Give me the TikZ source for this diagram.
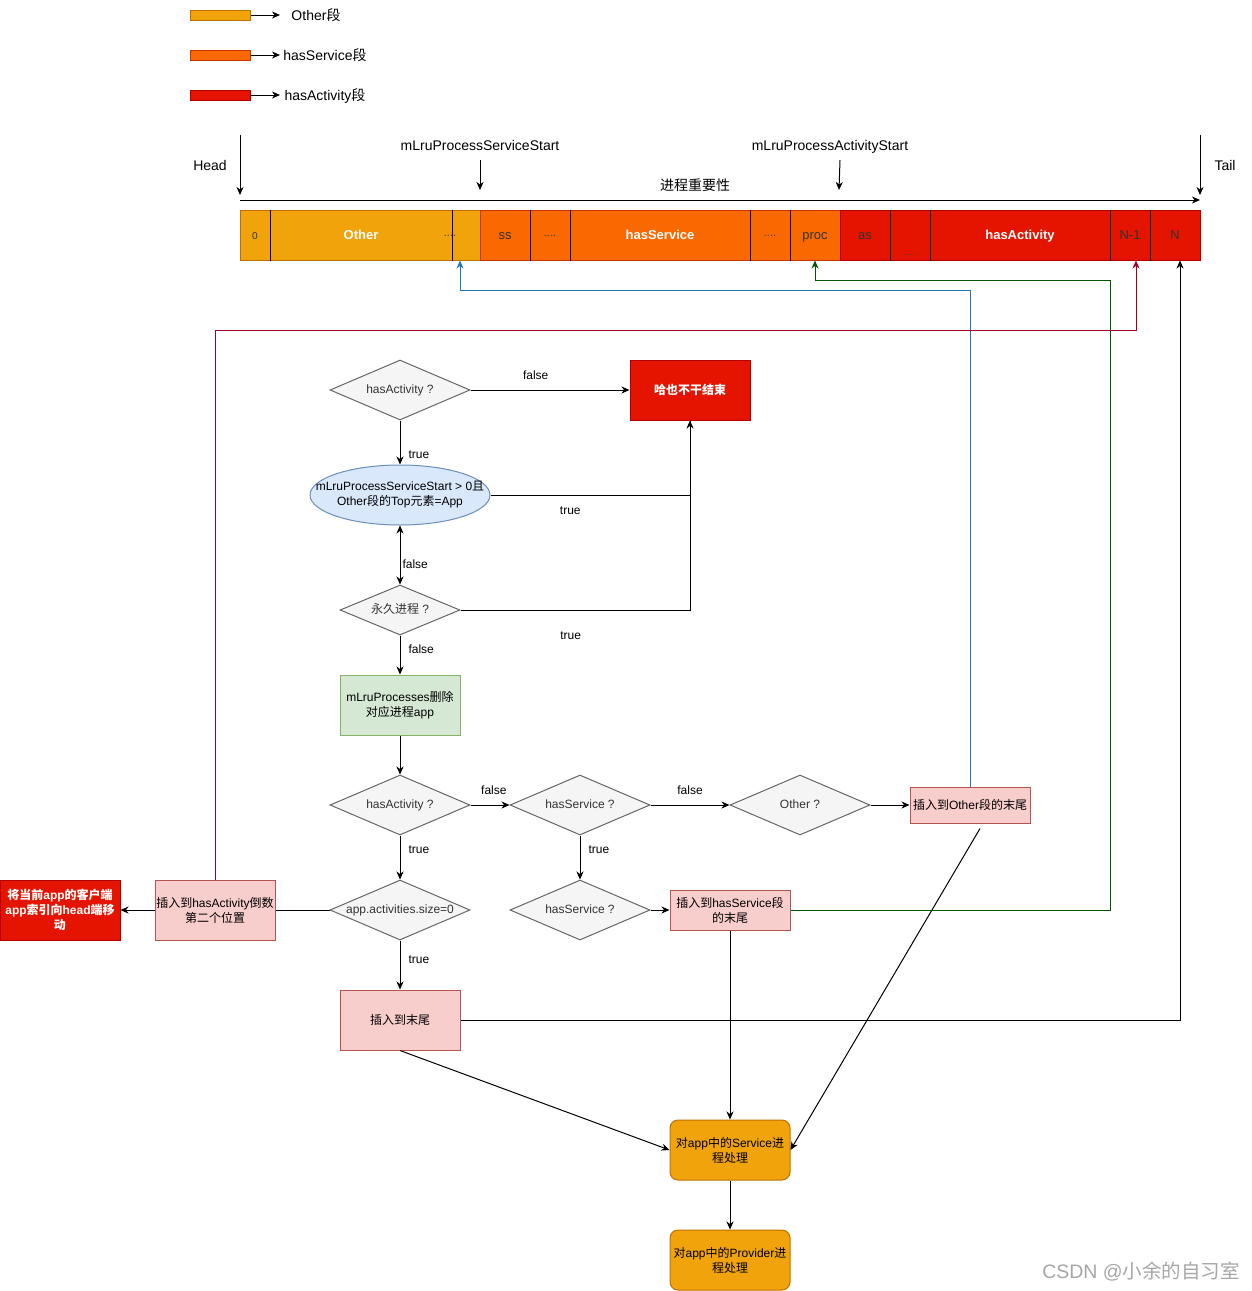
\documentclass[tikz,border=0pt]{standalone}
\usepackage{fontspec}
\setmainfont{Liberation Sans}
\newfontfamily\cjk{Noto Sans CJK SC}
\usetikzlibrary{arrows.meta, shapes.geometric, positioning, calc}
\definecolor{othfill}{HTML}{F0A30A}
\definecolor{othline}{HTML}{BD7000}
\definecolor{svcfill}{HTML}{FA6800}
\definecolor{svcline}{HTML}{C73500}
\definecolor{actfill}{HTML}{E51400}
\definecolor{actline}{HTML}{B20000}
\definecolor{decfill}{HTML}{F5F5F5}
\definecolor{decline}{HTML}{666666}
\definecolor{dectext}{HTML}{333333}
\definecolor{insfill}{HTML}{F8CECC}
\definecolor{insline}{HTML}{B85450}
\definecolor{delfill}{HTML}{D5E8D4}
\definecolor{delline}{HTML}{82B366}
\definecolor{ellfill}{HTML}{DAE8FC}
\definecolor{ellline}{HTML}{6C8EBF}
\definecolor{bluelink}{HTML}{1F78B4}
\definecolor{greenlink}{HTML}{005700}
\definecolor{redlink}{HTML}{A20025}
\newcommand{\zh}[1]{{\cjk #1}}
\tikzset{
  toplabel/.style={font=\fontsize{14}{16}\selectfont, inner sep=1pt, text height=10pt, text depth=3pt, yshift=-2pt},
  legbar/.style={minimum width=60, minimum height=10, inner sep=0pt, line width=1pt},
  cell/.style={minimum height=50, inner sep=0pt, line width=1pt, text=black!80, text height=11pt, text depth=1.5pt, font=\fontsize{13}{15}\selectfont},
  bigcell/.style={cell, text=white, font=\fontsize{13}{15}\selectfont\bfseries},
  celldots/.style={font=\fontsize{11}{12}\selectfont, text=black!75, inner sep=0pt},
  sepline/.style={black, line width=0.8pt},
  decision/.style={diamond, aspect=2.33, draw=decline, fill=decfill, text=dectext, inner sep=0pt, line width=1pt, text height=9pt, text depth=2pt, font=\fontsize{12}{15}\selectfont},
  insbox/.style={rectangle, draw=insline, fill=insfill, minimum width=120, inner sep=0pt, line width=1pt, align=center, font=\fontsize{12}{15}\selectfont},
  redbox/.style={rectangle, draw=actline, fill=actfill, text=white, minimum width=120, minimum height=60, inner sep=0pt, line width=1pt, align=center, font=\fontsize{12}{15}\selectfont\bfseries},
  procbox/.style={rectangle, rounded corners=8pt, draw=othline, fill=othfill, minimum width=120, minimum height=60, inner sep=0pt, line width=1pt, align=center, font=\fontsize{12}{15}\selectfont},
  lbl/.style={font=\fontsize{12}{14}\selectfont, inner sep=2pt, text height=8.5pt, text depth=2.5pt},
  flow/.style={line width=1pt, ->},
}
\begin{document}
\begin{tikzpicture}[x=1pt, y=-1pt, >={Stealth[length=8pt, width=7pt, inset=2.5pt]}]
        \useasboundingbox (0,0) rectangle (1251,1291);
        % legend
        \draw (220,15) node[legbar, fill=othfill, draw=othline] (leg_oth){};
        \draw (220,55) node[legbar, fill=svcfill, draw=svcline] (leg_svc){};
        \draw (220,95) node[legbar, fill=actfill, draw=actline] (leg_act){};
        \coordinate (leg_oth_end) at (280,15);
        \coordinate (leg_svc_end) at (280,55);
        \coordinate (leg_act_end) at (280,95);
        \draw[flow] (leg_oth.east) -- (leg_oth_end);
        \draw[flow] (leg_svc.east) -- (leg_svc_end);
        \draw[flow] (leg_act.east) -- (leg_act_end);
        \draw (316,15) node[toplabel] (leg_oth_txt){Other\zh{段}};
        \draw (325,55) node[toplabel] (leg_svc_txt){hasService\zh{段}};
        \draw (325,95) node[toplabel] (leg_act_txt){hasActivity\zh{段}};
        % pointers above the list
        \draw (210,165) node[toplabel] (head){Head};
        \draw (1225,165) node[toplabel] (tail){Tail};
        \draw (480,145) node[toplabel] (svc_start){mLruProcessServiceStart};
        \draw (830,145) node[toplabel] (act_start){mLruProcessActivityStart};
        \draw (695,185) node[toplabel] (prio){\zh{进程重要性}};
        \coordinate (head_a) at (240,135);  \coordinate (head_b) at (240,195);
        \coordinate (tail_a) at (1200,135); \coordinate (tail_b) at (1200,195);
        \coordinate (svc_a) at (480,160);   \coordinate (svc_b) at (480,190);
        \coordinate (act_a) at (840,160);   \coordinate (act_b) at (839,190);
        \coordinate (axis_a) at (240,200);  \coordinate (axis_b) at (1200,200);
        \draw[flow] (head_a) -- (head_b);
        \draw[flow] (tail_a) -- (tail_b);
        \draw[flow] (svc_a) -- (svc_b);
        \draw[flow] (act_a) -- (act_b);
        \draw[flow] (axis_a) -- (axis_b);
        % process list
        \draw (255,235) node[cell, fill=othfill, draw=othline, minimum width=30, font=\fontsize{10}{12}\selectfont] (seg_0){0};
        \draw (361,235) node[bigcell, fill=othfill, draw=othline, minimum width=182] (seg_other){Other};
        \draw (466,235) node[cell, fill=othfill, draw=othline, minimum width=28] (seg_dots){};
        \draw (505,235) node[cell, fill=svcfill, draw=svcline, minimum width=50] (seg_ss){ss};
        \draw (550,235) node[cell, fill=svcfill, draw=svcline, minimum width=40] (seg_sd){};
        \draw (660,235) node[bigcell, fill=svcfill, draw=svcline, minimum width=180] (seg_svc){hasService};
        \draw (770,235) node[cell, fill=svcfill, draw=svcline, minimum width=40] (seg_sd2){};
        \draw (815,235) node[cell, fill=svcfill, draw=svcline, minimum width=50] (seg_proc){proc};
        \draw (865,235) node[cell, fill=actfill, draw=actline, minimum width=50] (seg_as){as};
        \draw (910,235) node[cell, fill=actfill, draw=actline, minimum width=40] (seg_ad){};
        \draw (1020,235) node[bigcell, fill=actfill, draw=actline, minimum width=180] (seg_act){hasActivity};
        \draw (1130,235) node[cell, fill=actfill, draw=actline, minimum width=40] (seg_n1){N-1};
        \draw (1175,235) node[cell, fill=actfill, draw=actline, minimum width=50] (seg_n){N};
        \foreach \c in {seg_0,seg_other,seg_ss,seg_sd,seg_svc,seg_sd2,seg_as,seg_ad,seg_act,seg_n1}
          \draw[sepline] (\c.north east) -- (\c.south east);
        \draw (450,236) node[celldots] (dots_oth){....};
        \draw (550,236) node[celldots] (dots_sd){....};
        \draw (770,236) node[celldots] (dots_sd2){....};
        \draw (910,255) node[celldots] (dots_ad){....};
        % flow chart
        \draw (400,390) node[decision, minimum width=140, minimum height=60] (fc_act1){hasActivity ?};
        \draw (690,390) node[redbox] (fc_end){\zh{哈也不干结束}};
        \draw (400,495) node[ellipse, draw=ellline, fill=ellfill, minimum width=180, minimum height=60, inner sep=0pt, line width=1pt,
          label={[align=center, font=\fontsize{12}{15}\selectfont]center:mLruProcessServiceStart > 0\zh{且}\\Other\zh{段的}Top\zh{元素}=App}] (fc_top){};
        \draw (400,610) node[decision, aspect=2.4, minimum width=120, minimum height=50] (fc_pers){\zh{永久进程} ?};
        \draw (400,705) node[rectangle, draw=delline, fill=delfill, minimum width=120, minimum height=60, inner sep=0pt, line width=1pt, align=center, font=\fontsize{12}{15}\selectfont] (fc_del){mLruProcesses\zh{删除}\\\zh{对应进程}app};
        \draw (400,805) node[decision, minimum width=140, minimum height=60] (fc_act2){hasActivity ?};
        \draw (580,805) node[decision, minimum width=140, minimum height=60] (fc_svc1){hasService ?};
        \draw (800,805) node[decision, minimum width=140, minimum height=60] (fc_oth){Other ?};
        \draw (970,805) node[insbox, minimum height=36] (fc_oend){\zh{插入到}Other\zh{段的末尾}};
        \draw (400,910) node[decision, minimum width=140, minimum height=60] (fc_size){app.activities.size=0};
        \draw (580,910) node[decision, minimum width=140, minimum height=60] (fc_svc2){hasService ?};
        \draw (730,910) node[insbox, minimum height=40] (fc_send){\zh{插入到}hasService\zh{段}\\\zh{的末尾}};
        \draw (215,910) node[insbox, minimum height=60] (fc_asec){\zh{插入到}hasActivity\zh{倒数}\\\zh{第二个位置}};
        \draw (60,910) node[redbox] (fc_move){\zh{将当前}app\zh{的客户端}\\app\zh{索引向}head\zh{端移}\\\zh{动}};
        \draw (400,1020) node[insbox, minimum height=60] (fc_tail){\zh{插入到末尾}};
        \draw (730,1150) node[procbox] (fc_sproc){\zh{对}app\zh{中的}Service\zh{进}\\\zh{程处理}};
        \draw (730,1260) node[procbox] (fc_pproc){\zh{对}app\zh{中的}Provider\zh{进}\\\zh{程处理}};
        % edges
        \draw[flow] (fc_act1) -- node[lbl, above=6pt, pos=0.41] {false} (fc_end);
        \draw[flow] (fc_act1) -- node[lbl, right=6pt, pos=0.8] {true} (fc_top);
        \draw[flow] (fc_top.east) -| node[lbl, below=8pt, pos=0.2] {true} (fc_end.south);
        \draw[line width=1pt, <->] (fc_top) -- node[lbl, right, pos=0.67] {false} (fc_pers);
        \draw[line width=1pt] (fc_pers.east) -| node[lbl, below=18pt, pos=0.24] {true} (fc_end.south);
        \draw[flow] (fc_pers) -- node[lbl, right=6pt, pos=0.375] {false} (fc_del);
        \draw[flow] (fc_del) -- (fc_act2);
        \draw[flow] (fc_act2) -- node[lbl, above=6pt, pos=0.6] {false} (fc_svc1);
        \draw[flow] (fc_svc1) -- node[lbl, above=6pt] {false} (fc_oth);
        \draw[flow] (fc_oth) -- (fc_oend);
        \draw[flow] (fc_act2) -- node[lbl, right=6pt, pos=0.33] {true} (fc_size);
        \draw[flow] (fc_svc1) -- node[lbl, right=6pt, pos=0.33] {true} (fc_svc2);
        \draw[flow] (fc_svc2) -- (fc_send);
        \draw[line width=1pt] (fc_size) -- (fc_asec);
        \draw[flow] (fc_asec) -- (fc_move);
        \draw[flow] (fc_size) -- node[lbl, right=6pt, pos=0.4] {true} (fc_tail);
        \draw[flow] (fc_tail.south) -- (fc_sproc.west);
        \draw[flow] (fc_send) -- (fc_sproc);
        \draw[flow] ($(fc_oend.south)+(10,5)$) -- (fc_sproc.east);
        \draw[flow] (fc_sproc) -- (fc_pproc);
        % links back to the list
        \draw[flow, bluelink] (fc_oend.north) |- ($(seg_dots.south)+(-6,30)$) -- ($(seg_dots.south)+(-6,0)$);
        \draw[flow, greenlink] (fc_send.east) -| ($(seg_proc.south)+(295,20)$) -| (seg_proc.south);
        \draw[flow, redlink] (fc_asec.north) |- ($(seg_n1.south)+(6,70)$) -- ($(seg_n1.south)+(6,0)$);
        \draw[flow] (fc_tail.east) -| ($(seg_n.south)+(5,0)$);
        % watermark
        \draw (1141,1272) node[font=\fontsize{19.5}{22}\selectfont, text=gray!70] (mark){CSDN @\zh{小余的自习室}};
\end{tikzpicture}
\end{document}
